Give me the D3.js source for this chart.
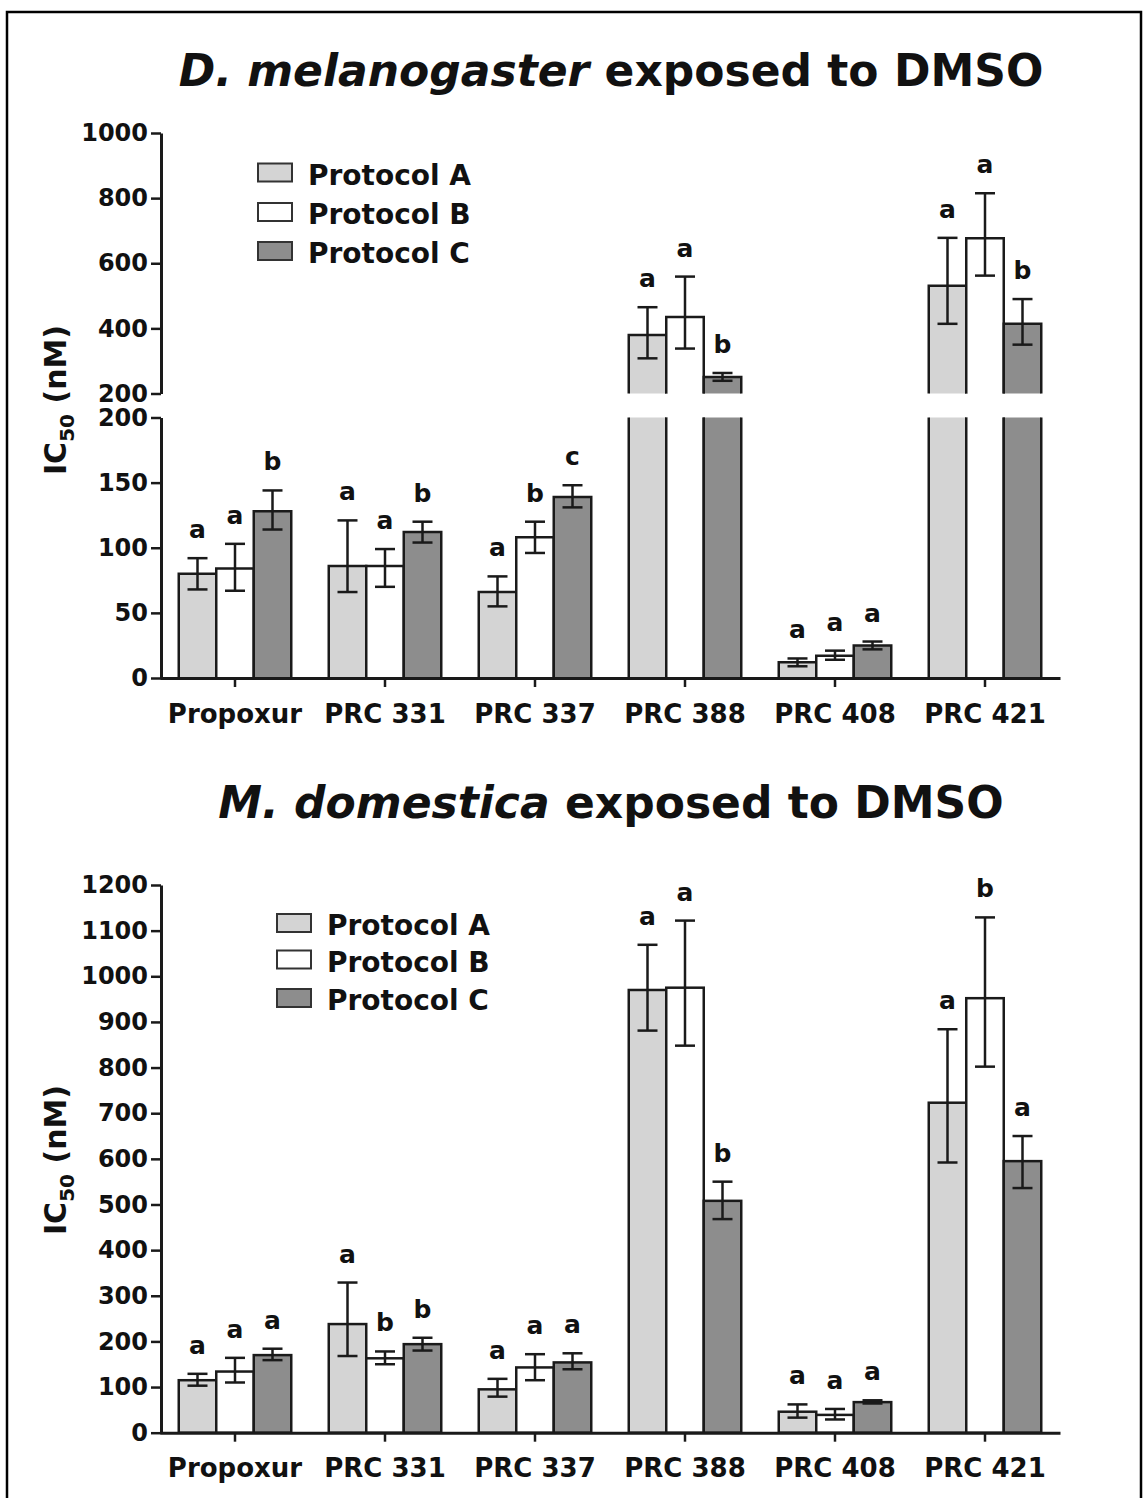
<!DOCTYPE html>
<html>
<head>
<meta charset="utf-8">
<script src="https://cdn.jsdelivr.net/npm/d3@7"></script>
<style>
  html, body { margin: 0; padding: 0; background: #fff; }
  svg text { font-family: "DejaVu Sans", "Liberation Sans", sans-serif; font-weight: bold; fill: #111; }
</style>
</head>
<body>
<svg id="chart" width="1147" height="1498"></svg>
<script>
// ---------- data ----------
const categories = ["Propoxur", "PRC 331", "PRC 337", "PRC 388", "PRC 408", "PRC 421"];
const seriesNames = ["Protocol A", "Protocol B", "Protocol C"];

// D. melanogaster (top panel)
const dmA   = [80, 86, 66, 380, 12, 531];
const dmAlo = [68, 66, 55, 308, 9, 414];
const dmAhi = [92, 121, 78, 465, 15, 678];
const dmB   = [84, 86, 108, 435, 17, 677];
const dmBlo = [67, 70, 96, 338, 14, 562];
const dmBhi = [103, 99, 120, 559, 21, 815];
const dmC   = [128, 112, 139, 251, 25, 414];
const dmClo = [114, 104, 131, 239, 22, 350];
const dmChi = [144, 120, 148, 263, 28, 490];
const dmLettersA = ["a", "a", "a", "a", "a", "a"];
const dmLettersB = ["a", "a", "b", "a", "a", "a"];
const dmLettersC = ["b", "b", "c", "b", "a", "b"];

// M. domestica (bottom panel)
const mdA   = [115, 238, 95, 970, 46, 723];
const mdAlo = [103, 168, 79, 881, 33, 592];
const mdAhi = [129, 329, 118, 1069, 62, 884];
const mdB   = [134, 163, 143, 975, 39, 952];
const mdBlo = [110, 150, 115, 848, 29, 802];
const mdBhi = [164, 178, 172, 1122, 52, 1129];
const mdC   = [170, 194, 154, 508, 67, 595];
const mdClo = [159, 180, 139, 468, 64, 536];
const mdChi = [184, 208, 174, 550, 71, 650];
const mdLettersA = ["a", "a", "a", "a", "a", "a"];
const mdLettersB = ["a", "b", "a", "a", "a", "b"];
const mdLettersC = ["a", "b", "a", "b", "a", "a"];

// tick values
const dmTicksUpper = [200, 400, 600, 800, 1000];
const dmTicksLower = [0, 50, 100, 150, 200];
const mdTicks = [0, 100, 200, 300, 400, 500, 600, 700, 800, 900, 1000, 1100, 1200];

// ---------- style ----------
const fills = ["#d4d4d4", "#ffffff", "#8d8d8d"];
const ink = "#1a1a1a";

const svg = d3.select("#chart");

// frame
svg.append("rect").attr("x", 7).attr("y", 12).attr("width", 1134).attr("height", 1510)
  .attr("fill", "none").attr("stroke", "#000").attr("stroke-width", 2.5);

function buildRows(m, lo, hi, let_) {
  return categories.map((c, i) => seriesNames.map((s, k) => ({
    cat: c, k, v: m[k][i], lo: lo[k][i], hi: hi[k][i], letter: let_[k][i]
  })));
}

const dmRows = buildRows([dmA, dmB, dmC], [dmAlo, dmBlo, dmClo], [dmAhi, dmBhi, dmChi], [dmLettersA, dmLettersB, dmLettersC]);
const mdRows = buildRows([mdA, mdB, mdC], [mdAlo, mdBlo, mdClo], [mdAhi, mdBhi, mdChi], [mdLettersA, mdLettersB, mdLettersC]);

const axisX = 161;

function styleAxis(g) {
  g.select(".domain").attr("stroke", ink).attr("stroke-width", 3);
  g.selectAll(".tick line").attr("stroke", ink).attr("stroke-width", 2.5);
  g.selectAll(".tick text").attr("font-size", 24).attr("fill", "#111")
    .attr("font-family", "DejaVu Sans").attr("font-weight", "bold");
}

function xScales() {
  const x0 = d3.scaleBand().domain(categories).range([160, 1060]).paddingInner(0.25).paddingOuter(0.125);
  const x1 = d3.scaleBand().domain([0, 1, 2]).range([0, x0.bandwidth()]);
  return { x0, x1 };
}

function drawXAxis(g, x0, y0, labelBaseline) {
  const ax = g.append("g").attr("transform", `translate(0,${y0})`)
    .call(d3.axisBottom(x0).tickSize(9).tickSizeOuter(0));
  styleAxis(ax);
  ax.selectAll(".tick text").attr("font-size", 26).attr("y", labelBaseline - y0).attr("dy", 0);
}

function drawLegend(g, x, ys, textX) {
  seriesNames.forEach((s, k) => {
    g.append("rect").attr("x", x).attr("y", ys[k]).attr("width", 34).attr("height", 18)
      .attr("fill", fills[k]).attr("stroke", "#333").attr("stroke-width", 2);
    g.append("text").attr("x", textX).attr("y", ys[k] + 21).attr("font-size", 28).text(s);
  });
}

function drawYTitle(g, cx, cy) {
  const t = g.append("text").attr("transform", `translate(${cx},${cy}) rotate(-90)`)
    .attr("text-anchor", "middle").attr("font-size", 30);
  t.append("tspan").text("IC");
  t.append("tspan").attr("font-size", 20).attr("dy", 8).text("50");
  t.append("tspan").attr("dy", -8).text(" (nM)");
}

function drawTitle(g, cx, baseline, species) {
  const t = g.append("text").attr("x", cx).attr("y", baseline).attr("text-anchor", "middle").attr("font-size", 44);
  t.append("tspan").attr("font-style", "italic").text(species);
  t.append("tspan").text(" exposed to DMSO");
}

function errBar(g, cx, yHi, yLo) {
  g.append("line").attr("x1", cx).attr("x2", cx).attr("y1", yHi).attr("y2", yLo)
    .attr("stroke", ink).attr("stroke-width", 2.5);
  [yHi, yLo].forEach(y => g.append("line").attr("x1", cx - 10).attr("x2", cx + 10).attr("y1", y).attr("y2", y)
    .attr("stroke", ink).attr("stroke-width", 2.5));
}

// ---------- top panel (broken axis) ----------
(function () {
  const g = svg.append("g");
  const { x0, x1 } = xScales();
  const yLow = d3.scaleLinear().domain([0, 200]).range([678, 417.5]);
  const yUp = d3.scaleLinear().domain([200, 1000]).range([393.5, 133]);
  const w = x1.bandwidth();

  dmRows.forEach(group => group.forEach(d => {
    const x = x0(d.cat) + x1(d.k);
    const cx = x + w / 2;
    // lower segment
    const vLow = Math.min(d.v, 200);
    const yt = yLow(vLow), yb = yLow(0);
    g.append("rect").attr("x", x).attr("y", yt).attr("width", w).attr("height", yb - yt).attr("fill", fills[d.k]);
    const open = d.v > 200;
    const p = open
      ? `M${x},${yb}V${yt}M${x + w},${yt}V${yb}`
      : `M${x},${yb}V${yt}H${x + w}V${yb}`;
    g.append("path").attr("d", p).attr("fill", "none").attr("stroke", ink).attr("stroke-width", 2.5);
    let yScaleUsed = yLow;
    if (open) {
      const ut = yUp(d.v), ub = yUp(200);
      g.append("rect").attr("x", x).attr("y", ut).attr("width", w).attr("height", ub - ut).attr("fill", fills[d.k]);
      g.append("path").attr("d", `M${x},${ub}V${ut}H${x + w}V${ub}`).attr("fill", "none")
        .attr("stroke", ink).attr("stroke-width", 2.5);
      yScaleUsed = yUp;
    }
    errBar(g, cx, yScaleUsed(d.hi), yScaleUsed(d.lo));
    g.append("text").attr("x", cx).attr("y", yScaleUsed(d.hi) - 20).attr("text-anchor", "middle")
      .attr("font-size", 25).text(d.letter);
  }));

  const axU = g.append("g").attr("transform", `translate(${axisX},0)`)
    .call(d3.axisLeft(yUp).tickValues(dmTicksUpper).tickFormat(d3.format("d")).tickSize(10).tickSizeOuter(0).tickPadding(3));
  styleAxis(axU);
  const axL = g.append("g").attr("transform", `translate(${axisX},0)`)
    .call(d3.axisLeft(yLow).tickValues(dmTicksLower).tickFormat(d3.format("d")).tickSize(10).tickSizeOuter(0).tickPadding(3));
  styleAxis(axL);

  drawXAxis(g, x0, 678, 723);
  drawLegend(g, 258, [163.5, 203, 242], 308);
  drawYTitle(g, 66, 400);
  drawTitle(g, 611, 86, "D. melanogaster");
})();

// ---------- bottom panel ----------
(function () {
  const g = svg.append("g");
  const { x0, x1 } = xScales();
  const y = d3.scaleLinear().domain([0, 1200]).range([1432.7, 885]);
  const w = x1.bandwidth();

  mdRows.forEach(group => group.forEach(d => {
    const x = x0(d.cat) + x1(d.k);
    const cx = x + w / 2;
    const yt = y(d.v), yb = y(0);
    g.append("rect").attr("x", x).attr("y", yt).attr("width", w).attr("height", yb - yt)
      .attr("fill", fills[d.k]).attr("stroke", ink).attr("stroke-width", 2.5);
    errBar(g, cx, y(d.hi), y(d.lo));
    g.append("text").attr("x", cx).attr("y", y(d.hi) - 20).attr("text-anchor", "middle")
      .attr("font-size", 25).text(d.letter);
  }));

  const ax = g.append("g").attr("transform", `translate(${axisX},0)`)
    .call(d3.axisLeft(y).tickValues(mdTicks).tickFormat(d3.format("d")).tickSize(10).tickSizeOuter(0).tickPadding(3));
  styleAxis(ax);

  drawXAxis(g, x0, 1432.7, 1477);
  drawLegend(g, 277, [914, 950.5, 989], 327);
  drawYTitle(g, 66, 1160);
  drawTitle(g, 611, 818, "M. domestica");
})();
</script>
</body>
</html>
